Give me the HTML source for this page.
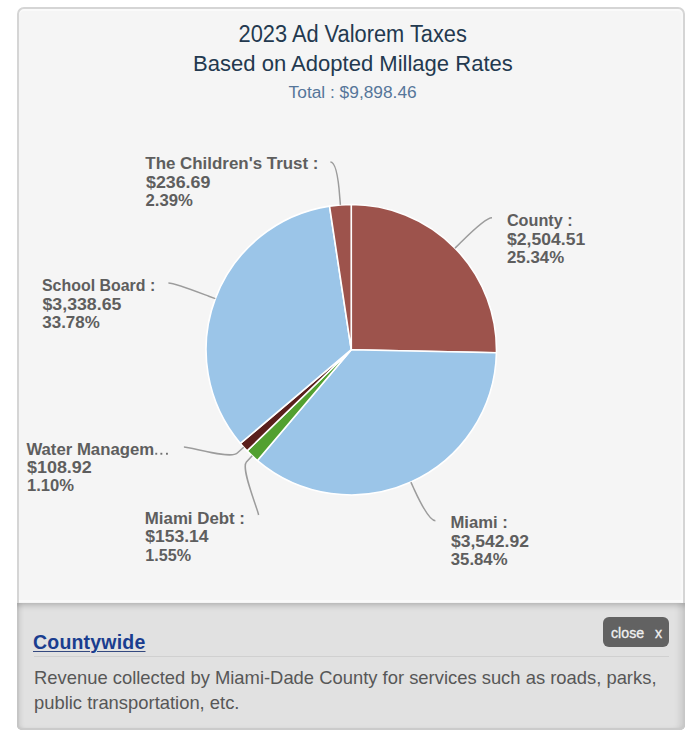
<!DOCTYPE html>
<html><head><meta charset="utf-8"><style>
html,body{margin:0;padding:0;background:#fff;width:700px;height:742px;overflow:hidden;}
body{position:relative;font-family:"Liberation Sans",sans-serif;}
.card{position:absolute;left:17px;top:7px;width:664px;height:719px;border:2px solid #d5d5d5;border-radius:7px;background:#f5f5f5;box-shadow:inset 0 2px 0 #fafafa, inset -3px 0 2px -1px #f9f9f9;}
.hl{position:absolute;left:19px;top:600px;width:664px;height:2px;background:#fafafa;}
.foot{position:absolute;left:17px;top:602.5px;width:668px;height:127.5px;border-radius:0 0 5px 5px;background:#e1e1e1;box-shadow:inset 0 6px 6px -4px rgba(0,0,0,0.22), inset 2px 0 0 #c9c9c9, inset -2px 0 0 #cbcbcb, inset 0 -2px 0 #cbcbcb, inset 7px 0 5px -4px rgba(0,0,0,0.10), inset -9px 0 6px -4px rgba(0,0,0,0.10), inset 0 -5px 4px -4px rgba(0,0,0,0.08);}
.chart{position:absolute;left:0;top:0;}
.ttl{position:absolute;left:16px;top:28.5px;font-weight:bold;font-size:19.5px;letter-spacing:0.2px;color:#1a3d8f;text-decoration:underline;text-decoration-thickness:1px;text-underline-offset:2px;text-decoration-color:#34497f;}
.sep{position:absolute;left:17px;top:53.5px;width:635px;height:1.2px;background:#d0d0d0;}
.desc{position:absolute;left:17px;top:62px;width:645px;font-size:18.4px;line-height:25px;color:#575757;}
.close{position:absolute;left:586px;top:14.5px;width:66px;height:30px;border-radius:6px;background:#626262;color:#f0f0f0;font-size:14.2px;}
.close span{position:absolute;top:7.5px;-webkit-text-stroke:0.3px #f0f0f0;}
</style></head><body>
<div class="card"></div>
<div class="hl"></div>
<div class="foot">
<div class="ttl">Countywide</div>
<div class="close"><span style="left:8px">close</span><span style="left:52px">x</span></div>
<div class="sep"></div>
<div class="desc">Revenue collected by Miami-Dade County for services such as roads, parks, public transportation, etc.</div>
</div>
<svg class="chart" width="700" height="742" viewBox="0 0 700 742">
<g font-family="Liberation Sans, sans-serif">
<text x="238.50" y="42.30" textLength="228.38" lengthAdjust="spacingAndGlyphs" font-size="23" fill="#23394f">2023 Ad Valorem Taxes</text><text x="193.10" y="71.40" textLength="319.68" lengthAdjust="spacingAndGlyphs" font-size="22.8" fill="#23394f">Based on Adopted Millage Rates</text><text x="288.60" y="97.60" textLength="128.07" lengthAdjust="spacingAndGlyphs" font-size="15.8" fill="#56769a">Total : $9,898.46</text>
</g>
<path d="M351.25 349.70 L351.25 204.50 A145.2 145.2 0 0 1 496.42 352.80 Z" fill="#9d534c" stroke="#fff" stroke-width="1.6" stroke-linejoin="round"/><path d="M351.25 349.70 L496.42 352.80 A145.2 145.2 0 0 1 257.44 460.52 Z" fill="#9bc5e8" stroke="#fff" stroke-width="1.6" stroke-linejoin="round"/><path d="M351.25 349.70 L257.44 460.52 A145.2 145.2 0 0 1 247.11 450.88 Z" fill="#52a030" stroke="#fff" stroke-width="1.6" stroke-linejoin="round"/><path d="M351.25 349.70 L247.11 450.88 A145.2 145.2 0 0 1 240.37 443.44 Z" fill="#5a1f1c" stroke="#fff" stroke-width="1.6" stroke-linejoin="round"/><path d="M351.25 349.70 L240.37 443.44 A145.2 145.2 0 0 1 329.53 206.13 Z" fill="#9bc5e8" stroke="#fff" stroke-width="1.6" stroke-linejoin="round"/><path d="M351.25 349.70 L329.53 206.13 A145.2 145.2 0 0 1 351.25 204.50 Z" fill="#9d534c" stroke="#fff" stroke-width="1.6" stroke-linejoin="round"/>
<path d="M330.4 162.1 C337.4 162.1 339.3 190.9 339.8 197.9 L340.4 204.9" fill="none" stroke="#9c9c9c" stroke-width="1.5"/><path d="M492.0 217.7 C485.0 217.7 465.0 238.3 460.0 243.2 L455.0 248.1" fill="none" stroke="#9c9c9c" stroke-width="1.5"/><path d="M168.4 282.9 C175.4 282.9 202.2 293.7 208.8 296.2 L215.3 298.6" fill="none" stroke="#9c9c9c" stroke-width="1.5"/><path d="M183.9 447.0 C190.9 447.0 230.3 459.3 237.0 453.3 L243.7 447.2" fill="none" stroke="#9c9c9c" stroke-width="1.5"/><path d="M258.6 515.0 C257.1 507.0 240.6 468.3 246.4 462.0 L252.2 455.8" fill="none" stroke="#9c9c9c" stroke-width="1.5"/><path d="M435.4 520.7 C428.4 520.7 416.7 494.8 413.8 488.5 L410.9 482.1" fill="none" stroke="#9c9c9c" stroke-width="1.5"/>
<g font-family="Liberation Sans, sans-serif" font-weight="bold" font-size="16.2" fill="#5e5e5e">
<rect x="155.3" y="452.8" width="1.9" height="1.9" fill="#707070"/><rect x="160.4" y="452.8" width="1.9" height="1.9" fill="#707070"/><rect x="166.0" y="452.8" width="1.9" height="1.9" fill="#707070"/><text x="145.30" y="169.40" textLength="173.17" lengthAdjust="spacingAndGlyphs">The Children's Trust :</text><text x="146.00" y="188.00" textLength="64.38" lengthAdjust="spacingAndGlyphs">$236.69</text><text x="145.50" y="206.10" textLength="47.32" lengthAdjust="spacingAndGlyphs">2.39%</text><text x="506.90" y="226.00" textLength="65.77" lengthAdjust="spacingAndGlyphs">County :</text><text x="507.10" y="244.60" textLength="78.07" lengthAdjust="spacingAndGlyphs">$2,504.51</text><text x="507.00" y="262.80" textLength="57.12" lengthAdjust="spacingAndGlyphs">25.34%</text><text x="42.00" y="291.20" textLength="113.21" lengthAdjust="spacingAndGlyphs">School Board :</text><text x="42.50" y="309.70" textLength="78.87" lengthAdjust="spacingAndGlyphs">$3,338.65</text><text x="42.30" y="327.90" textLength="57.52" lengthAdjust="spacingAndGlyphs">33.78%</text><text x="26.40" y="455.00" textLength="127.72" lengthAdjust="spacingAndGlyphs">Water Managem</text><text x="27.00" y="473.20" textLength="64.78" lengthAdjust="spacingAndGlyphs">$108.92</text><text x="27.00" y="491.40" textLength="47.02" lengthAdjust="spacingAndGlyphs">1.10%</text><text x="144.80" y="523.60" textLength="100.18" lengthAdjust="spacingAndGlyphs">Miami Debt :</text><text x="145.30" y="542.20" textLength="63.30" lengthAdjust="spacingAndGlyphs">$153.14</text><text x="145.30" y="560.60" textLength="45.82" lengthAdjust="spacingAndGlyphs">1.55%</text><text x="450.50" y="527.80" textLength="57.38" lengthAdjust="spacingAndGlyphs">Miami :</text><text x="451.00" y="546.60" textLength="77.87" lengthAdjust="spacingAndGlyphs">$3,542.92</text><text x="450.80" y="565.00" textLength="56.72" lengthAdjust="spacingAndGlyphs">35.84%</text>
</g>
</svg>
</body></html>
